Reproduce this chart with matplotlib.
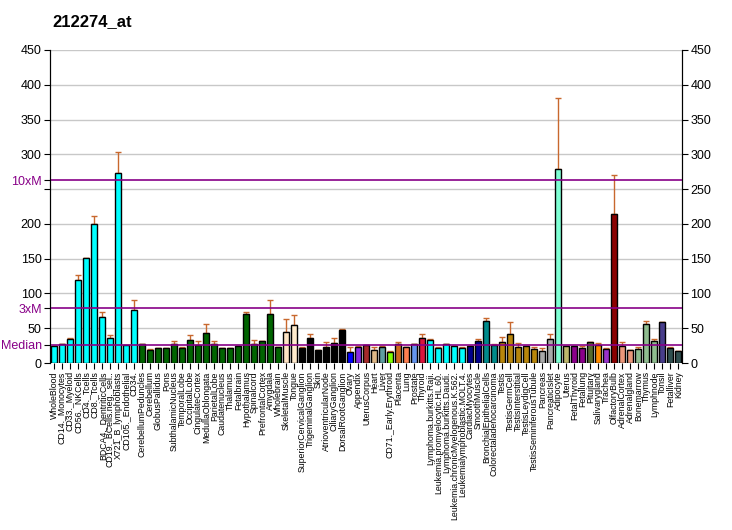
import matplotlib.pyplot as plt
import numpy as np

# sample labels, values and upper error ends
labels = ["WholeBlood", "CD14._Monocytes", "CD33._Myeloid", "CD56._NKCells", "CD4._Tcells",
          "CD8._Tcells", "BDCA4._DentriticCells", "CD19._BCells.neg._sel..", "X721_B_lymphoblasts",
          "CD105._Endothelial", "CD34.", "CerebellumPeduncles", "Cerebellum", "GlobusPallidus",
          "Pons", "SubthalamicNucleus", "TemporalLobe", "OccipitalLobe", "CingulateCortex",
          "MedullaOblongata", "ParietalLobe", "Caudatenucleus", "Thalamus", "Fetalbrain",
          "Hypothalamus", "Spinalcord", "PrefrontalCortex", "Amygdala", "Wholebrain",
          "SkeletalMuscle", "Tongue", "SuperiorCervicalGanglion", "TrigeminalGanglion", "Skin",
          "AtrioventricularNode", "CiliaryGanglion", "DorsalRootGanglion", "Ovary", "Appendix",
          "UterusCorpus", "Heart", "Liver", "CD71._Early.Erythroid", "Placenta", "Lung",
          "Prostate", "Thyroid", "Lymphoma.burkitts.Raji.", "Leukemia.promyelocytic.HL.60.",
          "Lymphoma.burkitts.Daudi.", "Leukemia.chronicMyelogenous.K.562.",
          "Leukemialymphoblastic.MOLT.4.", "CardiacMyocytes", "SmoothMuscle",
          "BronchialEpithelialCells", "Colorectaladenocarcinoma", "Testis", "TestisGermCell",
          "TestisInterstitial", "TestisLeydigCell", "TestisSeminiferousTubule", "Pancreas",
          "PancreaticIslet", "Adipocyte", "Uterus", "FetalThyroid", "Fetallung", "Pituitary",
          "Salivarygland", "Trachea", "OlfactoryBulb", "AdrenalCortex", "Adrenalgland",
          "Bonemarrow", "Thymus", "Lymphnode", "Tonsil", "Fetalliver", "Kidney"]

values = [24, 27, 34.5, 120, 150.5, 199.5, 66, 35.5, 273, 26, 75.5,
          27, 18, 21, 21, 27, 21.5, 32.5, 26, 42.5, 27, 21, 21, 24, 70.5, 27, 31.5, 70.5, 23,
          45, 55, 22, 36, 19, 23.5, 29, 47.5, 16, 23.5, 25.5, 19, 23.5, 16, 27, 23.5, 27, 36,
          33.5, 22, 27, 25, 22, 25, 32, 60, 26, 30, 41.5, 23, 24.5, 20, 17, 34.5, 278.5,
          25, 24.5, 21.5, 30, 25.5, 20.5, 214, 24.5, 18.5, 20, 55.5, 31.5, 58.5, 21.5, 17]

err_top = [24.5, 28, 36, 126, 150.5, 212, 74, 40, 304, 26.5, 90,
           28, 19.5, 22, 21, 31, 22.5, 40, 31, 55.5, 32, 22, 22, 24, 74, 33, 31.5, 90, 23,
           63, 68.5, 23, 41.5, 19, 30, 35.5, 48.5, 23, 24.5, 25.5, 22.5, 24.5, 17, 30, 23.5, 27.5, 41.5,
           34.5, 23, 27, 25, 23, 25, 34.5, 64.5, 27, 38, 58.5, 28.5, 24.5, 23, 21.5, 42, 380.5,
           25, 24.5, 24, 30, 28.5, 21.5, 271, 30, 18.5, 22.5, 60, 34.5, 59.5, 22.5, 17]

colors = (["#00FFFF"] * 11 + ["#006400"] * 18 + ["#FFE4C4", "#FFEBCD"] + ["#000000"] * 6 +
          ["#0000FF", "#8A2BE2", "#A52A2A", "#DEB887", "#5F9EA0", "#7FFF00", "#D2691E",
           "#FF7F50", "#6495ED", "#DC143C"] + ["#00FFFF"] * 5 + ["#00008B"] * 2 +
          ["#008B8B"] * 2 + ["#B8860B"] * 5 + ["#A9A9A9"] * 2 +
          ["#7FFFD4", "#BDB76B", "#8B008B", "#8B008B", "#556B2F", "#FF8C00", "#9932CC",
           "#8B0000", "#E9967A", "#E9967A"] + ["#8FBC8F"] * 3 + ["#483D8B"] + ["#2F4F4F"] * 2)

median_val = 26.3

x = np.arange(len(values))
vals = np.array(values)
err = np.array(err_top) - vals

fig = plt.figure(figsize=(7.32, 5.30), dpi=100)
ax = fig.add_axes([50/732, 1-363/530, 632/732, 313/530])

for y in range(50, 451, 50):
    ax.axhline(y, color='#C8C8C8', lw=1, zorder=0)

ax.bar(x, vals, width=0.75, color=colors, edgecolor='black', linewidth=1, zorder=2)
ax.errorbar(x, vals, yerr=[np.zeros_like(err), err], fmt='none', ecolor='#C8682E',
            elinewidth=1, capsize=2, capthick=1, zorder=1)

for m in [median_val, 3*median_val, 10*median_val]:
    ax.axhline(m, color='#880088', lw=1.2, zorder=3)

ax.set_xlim(-0.56, 78.44)
ax.set_ylim(0, 450)

# left axis: numbers plus the median markers
lt = [0, 50, 100, 150, 200, 250, 300, 350, 400, 450, median_val, 3*median_val, 10*median_val]
ll = ['0', '50', '100', '150', '200', '', '300', '350', '400', '450', 'Median', '3xM', '10xM']
ax.set_yticks(lt)
ax.set_yticklabels(ll, fontsize=9, family='Liberation Sans')
for t in ax.get_yticklabels()[-3:]:
    t.set_color('#880088')

ax2 = ax.twinx()
ax2.set_ylim(0, 450)
ax2.set_yticks(range(0, 451, 50))
ax2.set_yticklabels([str(v) for v in range(0, 451, 50)], fontsize=9, family='Liberation Sans')

ax.set_xticks(x)
ax.set_xticklabels(labels, rotation=90, fontsize=6.3, family='Liberation Sans')
ax.tick_params(axis='x', length=4, pad=2)
ax.tick_params(axis='y', length=4, pad=2)
ax2.tick_params(axis='y', length=4, pad=2)

for a in (ax, ax2):
    a.spines['top'].set_visible(False)
    a.spines['bottom'].set_visible(False)

fig.text(52/732, 1-22/530, '212274_at', fontsize=12, fontweight='bold',
         family='Liberation Sans', va='center')

fig.savefig('out.png', dpi=100)
